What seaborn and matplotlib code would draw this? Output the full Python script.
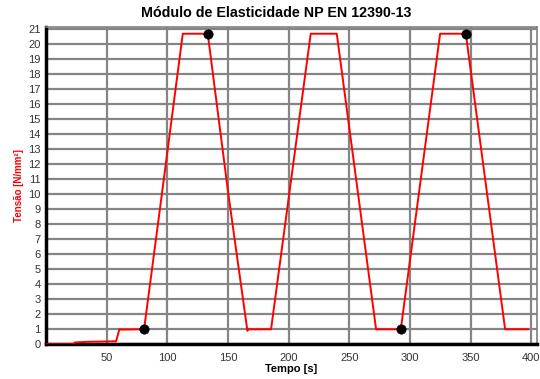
import matplotlib
matplotlib.use("Agg")
import matplotlib.pyplot as plt
from matplotlib.ticker import MultipleLocator
import seaborn as sns
import pandas as pd

# Data
tempo = [0, 22.4, 23.5, 30, 35, 45, 57.5, 58.5, 60.3, 62, 80.7, 96, 112.6, 133.2,
         150.2, 165.9, 166.5, 185.4, 218.1, 239.6, 272, 273, 292.4, 324.8, 346.0,
         378.4, 379, 397.6]
tensao = [0, 0, 0.12, 0.15, 0.17, 0.18, 0.2, 0.45, 1.0, 0.98, 1.0, 10.4, 20.7, 20.7,
          10.0, 0.9, 1.0, 1.0, 20.7, 20.7, 1.0, 1.0, 1.0, 20.7, 20.7,
          1.0, 1.0, 1.0]
pontos_t = [80.7, 133.2, 292.4, 346.0]
pontos_v = [1.0, 20.7, 1.0, 20.7]

df = pd.DataFrame({"Tempo": tempo, "Tensao": tensao})
dp = pd.DataFrame({"Tempo": pontos_t, "Tensao": pontos_v})

sns.set_theme(style="white")
plt.rcParams['font.family'] = ['Liberation Sans', 'DejaVu Sans']

fig = plt.figure(figsize=(5.4, 3.79), dpi=100)
ax = fig.add_axes([0.0856, 0.0916, 0.994 - 0.0856, 0.9288 - 0.0916])

sns.lineplot(data=df, x="Tempo", y="Tensao", ax=ax, color="#ff0000", linewidth=1.4,
             zorder=3)
sns.scatterplot(data=dp, x="Tempo", y="Tensao", ax=ax, color="black", s=45,
                edgecolor="black", zorder=4)

ax.set_xlim(0, 404.5)
ax.set_ylim(0, 21.15)
ax.xaxis.set_major_locator(MultipleLocator(50))
ax.xaxis.set_minor_locator(MultipleLocator(10))
ax.yaxis.set_major_locator(MultipleLocator(1))
ax.yaxis.set_minor_locator(MultipleLocator(0.2))

ax.grid(which="major", color="#858585", linewidth=1.6)
ax.set_axisbelow(True)

xt = [50, 100, 150, 200, 250, 300, 350, 400]
ax.set_xticks(xt)
ax.set_xticklabels([str(v) for v in xt])
yt = list(range(0, 22))
ax.set_yticks(yt)
ax.set_yticklabels([str(v) for v in yt])

for s in ["left", "bottom"]:
    ax.spines[s].set_color("black")
    ax.spines[s].set_linewidth(2.5)
for s in ["top", "right"]:
    ax.spines[s].set_color("#808080")
    ax.spines[s].set_linewidth(1.2)

ax.tick_params(axis="both", which="major", labelsize=8, colors="#333333",
               length=3, width=1, direction="out", pad=1)
ax.tick_params(axis="x", which="major", pad=3)
ax.tick_params(axis="both", which="minor", length=2.5, width=0.8,
               color="#333333", direction="in")
ax.tick_params(axis="y", which="minor", direction="out", length=2)

ax.set_xlabel("Tempo [s]", fontsize=8, fontweight="bold", color="black", labelpad=1)
ax.set_ylabel("Tensão [N/mm²]", fontsize=7, fontweight="bold", color="#ff0000", labelpad=3)
ax.set_title("Módulo de Elasticidade NP EN 12390-13", fontsize=10.3,
             fontweight="bold", color="black", pad=7, x=0.4685)

fig.savefig("out.png", dpi=100)
